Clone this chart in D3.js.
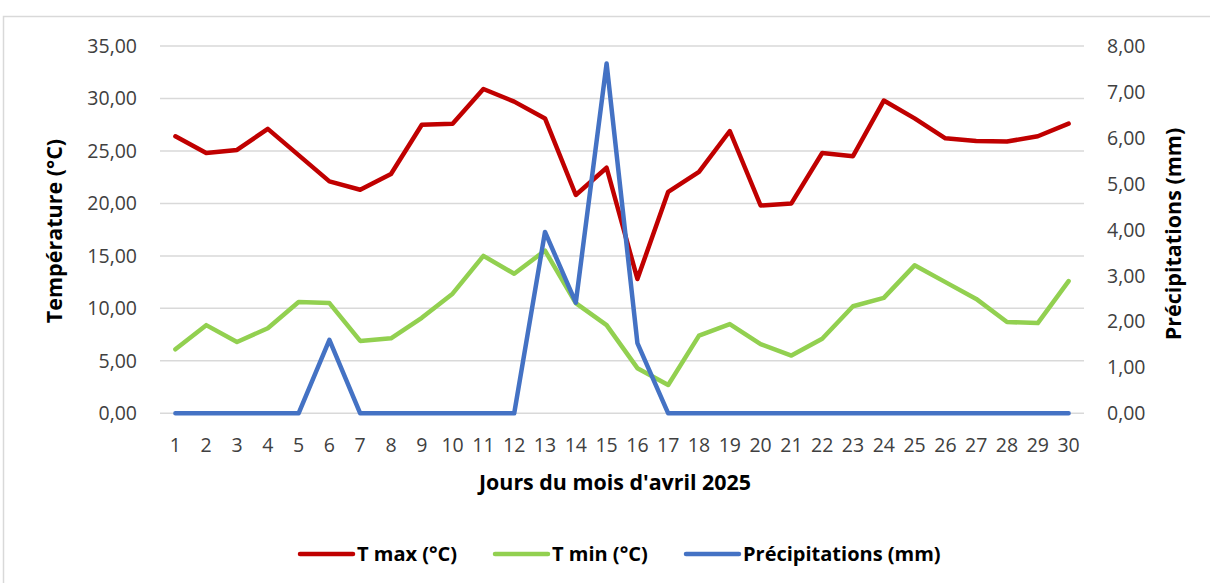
<!DOCTYPE html>
<html><head><meta charset="utf-8">
<script src="https://cdn.jsdelivr.net/npm/d3@7"></script>
<style>html,body{margin:0;padding:0;background:#fff;}svg{display:block;}</style>
</head><body>
<script>
const days = d3.range(1, 31).map(String);
const tmax = [26.4,24.8,25.1,27.1,24.6,22.1,21.3,22.8,27.5,27.6,30.9,29.7,28.1,20.8,23.4,12.8,21.1,23.0,26.9,19.8,20.0,24.8,24.5,29.8,28.1,26.2,25.95,25.9,26.4,27.6];
const tmin = [6.1,8.4,6.8,8.1,10.6,10.5,6.9,7.15,9.1,11.4,15.0,13.3,15.5,10.5,8.4,4.3,2.7,7.4,8.5,6.6,5.5,7.1,10.2,11.0,14.1,12.5,10.9,8.7,8.6,12.6];
const precip = [0,0,0,0,0,1.6,0,0,0,0,0,0,3.95,2.41,7.62,1.53,0,0,0,0,0,0,0,0,0,0,0,0,0,0];
const leftTicks = [0,5,10,15,20,25,30,35];
const rightTicks = [0,1,2,3,4,5,6,7,8];
const seriesNames = ["T max (°C)","T min (°C)","Précipitations (mm)"];
const colors = ["#C00000","#92D050","#4472C4"];

const W = 1210, H = 583;
const FONT = "'Open Sans', 'Liberation Sans', sans-serif";
const svg = d3.select("body").append("svg").attr("width", W).attr("height", H);

svg.append("rect").attr("x",3.5).attr("y",16.5).attr("width",1400).attr("height",800)
  .attr("fill","#fff").attr("stroke","#d9d9d9").attr("stroke-width",1.5);

const x = d3.scalePoint().domain(days).range([175.4, 1068.6]);
const yL = d3.scaleLinear().domain([0,35]).range([413.3, 46]);
const yR = d3.scaleLinear().domain([0,8]).range([413.3, 46]);
const plotL = 160, plotR = 1084;

function txt(g, s, tx, ty, opts) {
  return g.append("text")
    .attr("transform", `translate(${tx},${ty}) rotate(${opts.rot||0})`)
    .attr("font-family", FONT).attr("font-size", opts.size)
    .attr("font-weight", opts.bold ? 700 : 400)
    .attr("fill", opts.fill || "#404040")
    .attr("text-anchor", opts.anchor || "middle")
    .text(s);
}

// gridlines
svg.append("g").selectAll("line").data(leftTicks).join("line")
  .attr("x1", plotL).attr("x2", plotR)
  .attr("y1", d => yL(d)).attr("y2", d => yL(d))
  .attr("stroke", "#d9d9d9").attr("stroke-width", 1.5);

const fmt = v => d3.format(".2f")(v).replace(".", ",");
const gt = svg.append("g");
const TS = 19.5;
leftTicks.forEach(v => txt(gt, fmt(v), 137, yL(v) + 7, {size: TS, anchor: "end"}));
rightTicks.forEach(v => txt(gt, fmt(v), 1107, yR(v) + 7, {size: TS, anchor: "start"}));
days.forEach(d => txt(gt, d, x(d), 452, {size: TS}));

txt(gt, "Température (°C)", 62, 231, {size: 21.5, bold: true, rot: -90, fill: "#000"});
txt(gt, "Précipitations (mm)", 1181, 234, {size: 21.5, bold: true, rot: -90, fill: "#000"});
txt(gt, "Jours du mois d'avril 2025", 615, 490, {size: 21.4, bold: true, fill: "#000"});

const lineL = d3.line().x((d,i) => x(days[i])).y(d => yL(d));
const lineR = d3.line().x((d,i) => x(days[i])).y(d => yR(d));
const lg = svg.append("g").attr("fill","none").attr("stroke-width",4.5)
  .attr("stroke-linejoin","round").attr("stroke-linecap","round");
lg.append("path").attr("d", lineL(tmax)).attr("stroke", colors[0]);
lg.append("path").attr("d", lineL(tmin)).attr("stroke", colors[1]);
lg.append("path").attr("d", lineR(precip)).attr("stroke", colors[2]);

// legend
const legX = [300, 495, 686];
const leg = svg.append("g");
seriesNames.forEach((n, i) => {
  leg.append("line").attr("x1", legX[i]).attr("x2", legX[i] + 53)
    .attr("y1", 554).attr("y2", 554).attr("stroke", colors[i])
    .attr("stroke-width", 4.5).attr("stroke-linecap","round");
  txt(leg, n, legX[i] + 57, 561, {size: 20, bold: true, anchor: "start", fill: "#000"});
});
</script>
</body></html>
